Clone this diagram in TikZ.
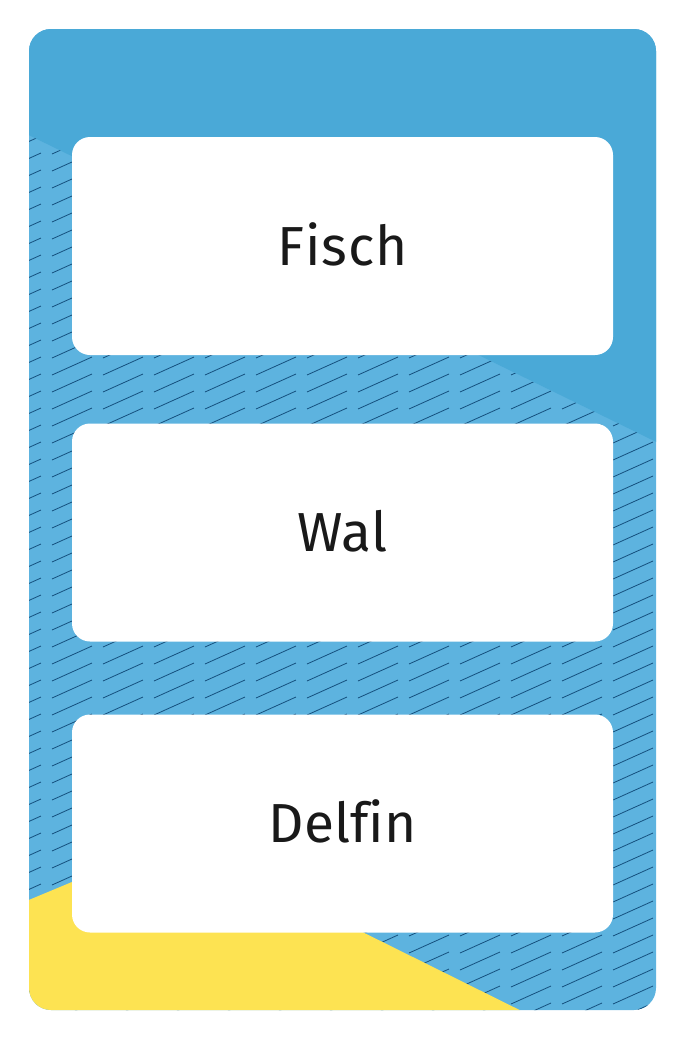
\documentclass[tikz,border=0pt]{standalone}
\usepackage{fontspec}
\setmainfont[Ligatures=NoCommon]{Fira Sans}
\usepackage{tikz}
\definecolor{kartenblau}{HTML}{4AA9D7}
\definecolor{hellblau}{HTML}{5DB3DF}
\definecolor{strichblau}{HTML}{15507E}
\definecolor{kartengelb}{HTML}{FDE352}
\tikzset{
  wortfeld/.style={fill=white,rounded corners=18pt,minimum width=541pt,minimum height=218pt,
    inner sep=0pt,text height=38pt,text depth=0pt,font=\fontsize{55}{60}\selectfont,text=black!90},
  strich/.style={draw=strichblau,line width=0.8pt}
}
\begin{document}
\begin{tikzpicture}[x=1pt,y=-1pt]
                    \useasboundingbox (0,0) rectangle (685,1039);
                    \begin{scope}
                        \clip[rounded corners=22pt] (29,29) rectangle (656,1010);
                        \fill[hellblau] (0,0) rectangle (685,1039);
                        \foreach \x in {1,52,...,670}
                            \foreach \y in {120,137,...,1040}
                                \draw[strich] (\x,\y) -- ++(40,-18);
                        \fill[kartenblau] (0,0) -- (685,0) -- (685,456) -- (0,121) -- cycle;
                        \fill[kartengelb] (0,912) -- (175,839) -- (578,1039) -- (0,1039) -- cycle;
                    \end{scope}
                    \node[wortfeld] (fisch) at (342.5,246) {F\kern1pt i\kern1pt s\kern1pt c\kern1pt h};
                    \node[wortfeld] (wal) at (342.5,532.5) {Wal};
                    \node[wortfeld] (delfin) at (342.5,823.5) {Delfin};
                \end{tikzpicture}
\end{document}
